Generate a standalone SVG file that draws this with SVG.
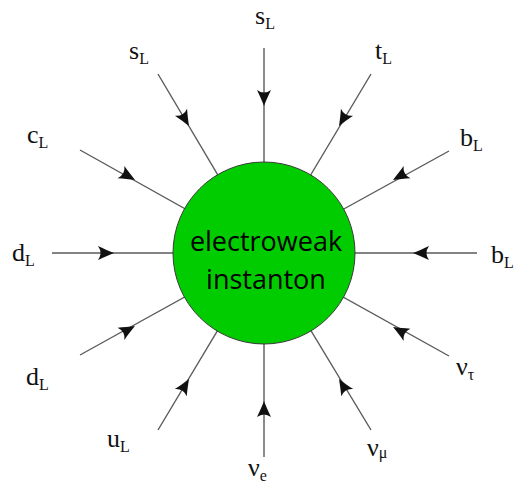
<svg xmlns="http://www.w3.org/2000/svg" xmlns:xlink="http://www.w3.org/1999/xlink" width="518" height="496" viewBox="0 0 518 496">
<style>
.ln{stroke:#5a5a5a;stroke-width:1.4;fill:none}
.ah{fill:#111}
.lb{font-family:"Liberation Serif","Times New Roman",serif;font-size:26px;fill:#111}
.sb{font-size:16px}
.ct{font-family:"Open Sans","Liberation Sans",sans-serif;font-size:27px;fill:#000;text-anchor:middle}
</style>
<defs>
<path id="arr" class="ah" d="M0,0 C-5,-2 -11,-4.5 -16,-7 Q-11,0 -16,7 C-11,4.5 -5,2 0,0 Z"/>
</defs>
<rect width="518" height="496" fill="#fff"/>
<g id="connectors">
<line class="ln" x1="264" y1="48" x2="264" y2="253"/>
<line class="ln" x1="371" y1="74" x2="264" y2="253"/>
<line class="ln" x1="449" y1="151" x2="264" y2="253"/>
<line class="ln" x1="477" y1="253" x2="264" y2="253"/>
<line class="ln" x1="449" y1="356" x2="264" y2="253"/>
<line class="ln" x1="371" y1="430" x2="264" y2="253"/>
<line class="ln" x1="264" y1="457" x2="264" y2="253"/>
<line class="ln" x1="158" y1="430" x2="264" y2="253"/>
<line class="ln" x1="80" y1="355" x2="264" y2="253"/>
<line class="ln" x1="52" y1="253" x2="264" y2="253"/>
<line class="ln" x1="80" y1="150" x2="264" y2="253"/>
<line class="ln" x1="158" y1="74" x2="264" y2="253"/>
<use xlink:href="#arr" transform="translate(264,106) rotate(90)"/>
<use xlink:href="#arr" transform="translate(339,126) rotate(120)"/>
<use xlink:href="#arr" transform="translate(393,180) rotate(151)"/>
<use xlink:href="#arr" transform="translate(413,253) rotate(180)"/>
<use xlink:href="#arr" transform="translate(393,327) rotate(209)"/>
<use xlink:href="#arr" transform="translate(339,379) rotate(239)"/>
<use xlink:href="#arr" transform="translate(264,401) rotate(270)"/>
<use xlink:href="#arr" transform="translate(189,379) rotate(301)"/>
<use xlink:href="#arr" transform="translate(135,326) rotate(331)"/>
<use xlink:href="#arr" transform="translate(114,253) rotate(0)"/>
<use xlink:href="#arr" transform="translate(135,180) rotate(29)"/>
<use xlink:href="#arr" transform="translate(189,126) rotate(60)"/>
</g>
<g id="instanton">
<circle cx="264" cy="253" r="91" fill="#00cc00" stroke="#3a3a3a" stroke-width="1"/>
<text class="ct" x="266" y="251">electroweak</text>
<text class="ct" x="266" y="289">instanton</text>
</g>
<g id="p-sL-top"><text class="lb" x="255" y="24">s<tspan class="sb" dy="5">L</tspan></text></g>
<g id="p-tL"><text class="lb" x="375" y="59">t<tspan class="sb" dy="5">L</tspan></text></g>
<g id="p-bL-upper"><text class="lb" x="460" y="146">b<tspan class="sb" dy="5">L</tspan></text></g>
<g id="p-bL-right"><text class="lb" x="491" y="263">b<tspan class="sb" dy="5">L</tspan></text></g>
<g id="p-nutau"><text class="lb" x="456" y="375">ν<tspan class="sb" dy="5">τ</tspan></text></g>
<g id="p-numu"><text class="lb" x="367" y="456">ν<tspan class="sb" dy="2">μ</tspan></text></g>
<g id="p-nue"><text class="lb" x="248" y="476">ν<tspan class="sb" dy="5">e</tspan></text></g>
<g id="p-uL"><text class="lb" x="107" y="447">u<tspan class="sb" dy="5">L</tspan></text></g>
<g id="p-dL-lower"><text class="lb" x="26" y="385">d<tspan class="sb" dy="5">L</tspan></text></g>
<g id="p-dL"><text class="lb" x="12" y="261">d<tspan class="sb" dy="5">L</tspan></text></g>
<g id="p-cL"><text class="lb" x="27" y="143">c<tspan class="sb" dy="5">L</tspan></text></g>
<g id="p-sL-left"><text class="lb" x="129" y="59">s<tspan class="sb" dy="5">L</tspan></text></g>
</svg>
